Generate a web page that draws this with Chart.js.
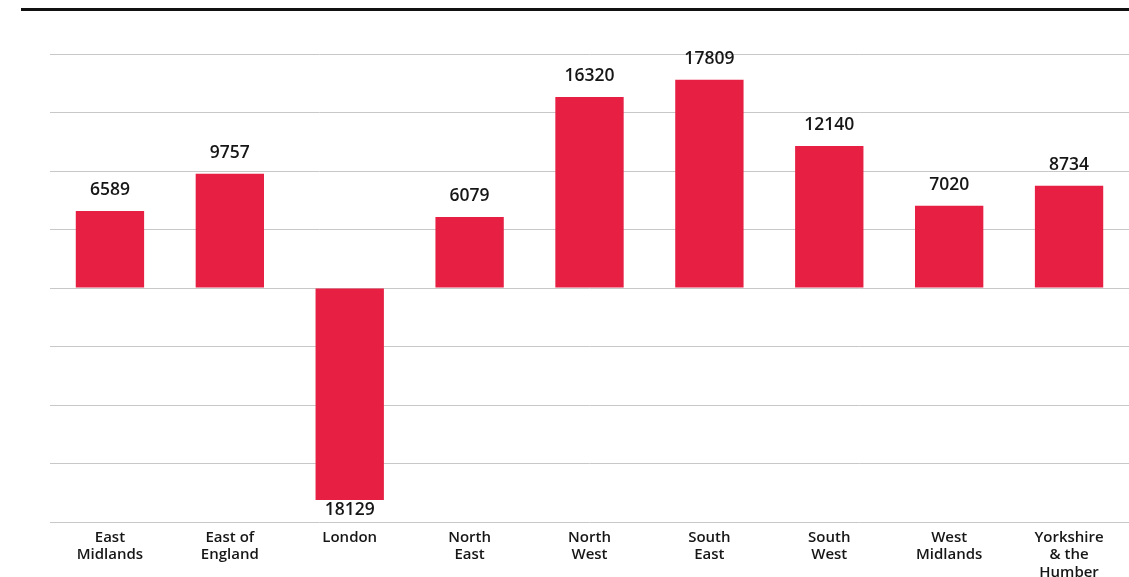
<!DOCTYPE html>
<html>
<head>
<meta charset="utf-8">
<script src="https://cdn.jsdelivr.net/npm/chart.js@4"></script>
<style>
  html, body { margin: 0; padding: 0; background: #ffffff; }
  #wrap { position: relative; width: 1129px; height: 577px; }
  #rule { position: absolute; left: 21px; top: 8px; width: 1108px; height: 3px; background: #111111; }
  canvas { position: absolute; left: 0; top: 0; }
</style>
</head>
<body>
<div id="wrap">
  <canvas id="chart" width="1129" height="577"></canvas>
  <div id="rule"></div>
</div>
<script>
// Regions (multi-line tick labels)
const regions = [
  ["East", "Midlands"],
  ["East of", "England"],
  ["London"],
  ["North", "East"],
  ["North", "West"],
  ["South", "East"],
  ["South", "West"],
  ["West", "Midlands"],
  ["Yorkshire", "& the", "Humber"]
];

// Net change per region
const netChange = [6589, 9757, -18129, 6079, 16320, 17809, 12140, 7020, 8734];

// Value axis range and gridline step
const axisMin = -20000;
const axisMax = 20000;
const axisStep = 5000;

const BAR_COLOR = "#e61f43";
const TEXT_COLOR = "#161616";
const FONT = "'Open Sans', 'Liberation Sans', sans-serif";

// Writes each bar's value just beyond its end
const valueLabels = {
  id: "valueLabels",
  afterDatasetsDraw(chart) {
    const ctx = chart.ctx;
    const meta = chart.getDatasetMeta(0);
    const data = chart.data.datasets[0].data;
    ctx.save();
    ctx.font = "600 17.5px " + FONT;
    ctx.fillStyle = TEXT_COLOR;
    ctx.textAlign = "center";
    ctx.textBaseline = "middle";
    meta.data.forEach((bar, i) => {
      const v = data[i];
      const y = v >= 0 ? bar.y - 21 : bar.y + 10;
      ctx.fillText(String(Math.abs(v)), bar.x, y);
    });
    ctx.restore();
  }
};

new Chart(document.getElementById("chart"), {
  type: "bar",
  data: {
    labels: regions,
    datasets: [{
      data: netChange,
      backgroundColor: BAR_COLOR,
      borderWidth: 0,
      barPercentage: 0.57,
      categoryPercentage: 1.0
    }]
  },
  options: {
    responsive: false,
    animation: false,
    devicePixelRatio: 1,
    layout: { padding: { left: 50, right: 0, top: 54, bottom: 0 } },
    plugins: {
      legend: { display: false },
      tooltip: { enabled: false }
    },
    scales: {
      x: {
        grid: { display: false, drawTicks: false },
        border: { display: false },
        ticks: {
          color: TEXT_COLOR,
          font: { family: FONT, size: 15, weight: "600", lineHeight: "17.5px" },
          padding: 6.5,
          maxRotation: 0,
          autoSkip: false
        },
        afterFit(scale) { scale.height = 55; }
      },
      y: {
        min: axisMin,
        max: axisMax,
        grid: { color: "#c8c8c8", lineWidth: 1, drawTicks: false },
        border: { display: false },
        ticks: { display: false, stepSize: axisStep }
      }
    }
  },
  plugins: [valueLabels]
});
</script>
</body>
</html>
